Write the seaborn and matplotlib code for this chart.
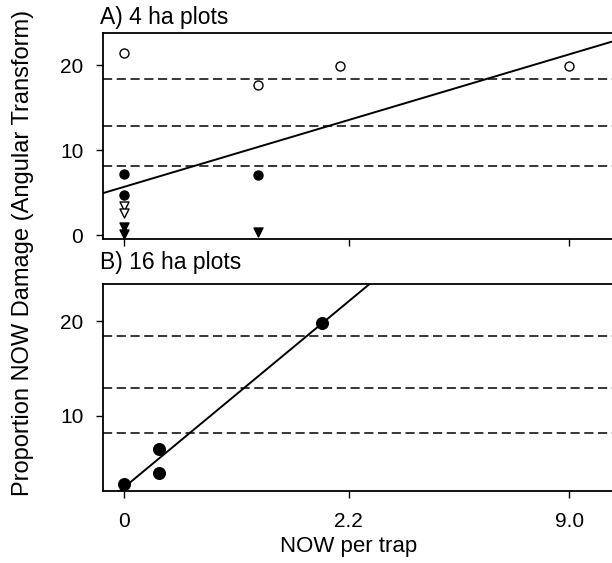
import numpy as np
import pandas as pd
import matplotlib
matplotlib.use('Agg')
import matplotlib.pyplot as plt
import seaborn as sns

# panel A (4 ha plots), x = NOW per trap, y = angular transform of damage
a_open_circ_x = [0, 1.0, 2.05, 9.0]
a_open_circ_y = [21.5, 17.7, 19.9, 19.9]
a_fill_circ_x = [0, 0, 1.0]
a_fill_circ_y = [7.17, 4.75, 7.1]
a_open_tri_x = [0, 0]
a_open_tri_y = [3.4, 2.6]
a_fill_tri_x = [0, 0, 1.0]
a_fill_tri_y = [1.0, 0.2, 0.4]

# panel B (16 ha plots)
b_x = [0, 0.2, 0.2, 1.78]
b_y = [2.8, 6.5, 3.9, 19.8]

# damage thresholds 2%, 5%, 10% in angular transform
thresholds = [8.13, 12.92, 18.43]

tick_vals = [0, 2.2, 9.0]
tick_labels = ['0', '2.2', '9.0']

sns.set_style('ticks')
plt.rcParams['font.family'] = ['Liberation Sans', 'DejaVu Sans']
plt.rcParams['text.color'] = 'black'

def tr(x):
    return np.log1p(np.asarray(x, dtype=float))

fig = plt.figure(figsize=(6.12, 5.63), dpi=100)
ax1 = fig.add_axes([0.168, 0.576, 0.842, 0.365])
ax2 = fig.add_axes([0.168, 0.128, 0.842, 0.367])

# panel A points
groups = [
    (a_open_circ_x, a_open_circ_y, 'o', 'white', 42),
    (a_fill_circ_x, a_fill_circ_y, 'o', 'black', 42),
    (a_open_tri_x, a_open_tri_y, 'v', 'white', 42),
    (a_fill_tri_x, a_fill_tri_y, 'v', 'black', 42),
]
all_x, all_y = [], []
for gx, gy, m, fc, s in groups:
    sns.scatterplot(x=tr(gx), y=gy, marker=m, s=s, color=fc, edgecolor='black',
                    linewidth=1.0, ax=ax1, zorder=3)
    all_x += list(gx)
    all_y += list(gy)

dfa = pd.DataFrame({'t': tr(all_x), 'y': all_y})
ax1.set_xlim(-0.108, 2.555)
ax1.set_ylim(-0.4, 23.8)
sns.regplot(x='t', y='y', data=dfa, scatter=False, ci=None, truncate=False,
            line_kws={'color': 'black', 'lw': 1.4}, ax=ax1)

# panel B
dfb = pd.DataFrame({'t': tr(b_x), 'y': b_y})
ax2.set_xlim(-0.108, 2.555)
ax2.set_ylim(2.03, 23.88)
sns.scatterplot(x='t', y='y', data=dfb, s=75, color='black', edgecolor='black', ax=ax2, zorder=3)
sns.regplot(x='t', y='y', data=dfb, scatter=False, ci=None, truncate=False,
            line_kws={'color': 'black', 'lw': 1.4}, ax=ax2)

for ax in (ax1, ax2):
    for h in thresholds:
        ax.axhline(h, color='black', ls=(0, (6, 3)), lw=1.1)
    ax.set_xticks(tr(tick_vals))
    ax.set_yticks([0, 10, 20])
    ax.tick_params(direction='out', length=5, width=1, labelsize=15, colors='black')
    ax.tick_params(axis='y', pad=9)
    ax.tick_params(axis='x', pad=10)
    for sp in ax.spines.values():
        sp.set_linewidth(1.3)
        sp.set_color('black')
    ax.set_xlabel('')
    ax.set_ylabel('')
ax1.set_xlim(-0.108, 2.555)
ax1.set_ylim(-0.4, 23.8)
ax2.set_xlim(-0.108, 2.555)
ax2.set_ylim(2.03, 23.88)
ax1.set_xticklabels([])
ax2.set_xticklabels(tick_labels)
ax2.set_yticks([10, 20])

fig.text(0.163, 0.958, 'A) 4 ha plots', ha='left', va='baseline', fontsize=16.5, color='black')
fig.text(0.163, 0.522, 'B) 16 ha plots', ha='left', va='baseline', fontsize=16.5, color='black')
fig.text(0.569, 0.030, 'NOW per trap', ha='center', va='center', fontsize=16, color='black')
fig.text(0.038, 0.5515, 'Proportion NOW Damage (Angular Transform)', rotation=90,
         ha='center', va='center', fontsize=17, color='black')

fig.savefig('out.png', dpi=100)
